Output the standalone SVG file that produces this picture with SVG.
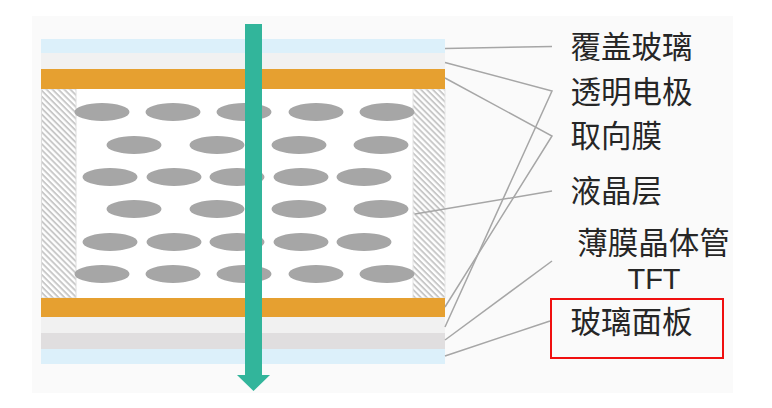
<svg xmlns="http://www.w3.org/2000/svg" width="772" height="408" viewBox="0 0 772 408">
<style>
.lc{fill:#a6a6a6}
.ln{fill:none;stroke:#a6a6a6;stroke-width:1.5}
.t{font-family:"Noto Sans CJK SC","Noto Sans",sans-serif;font-size:30.500px;fill:#262626}
</style>
<defs>
<pattern id="h" width="4.200" height="4.200" patternUnits="userSpaceOnUse" patternTransform="rotate(45)">
<rect width="4.200" height="4.200" fill="#fff"/><rect width="4.200" height="1.900" fill="#c8c8c8"/>
</pattern>
<ellipse id="e" rx="27.500" ry="9" class="lc"/>
</defs>
<rect width="772" height="408" fill="#fff"/>
<rect x="32" y="16" width="701" height="377" fill="#fafafa"/>
<g id="cell">
<rect x="41" y="39" width="404" height="14" fill="#dcf0fa"/>
<rect x="41" y="53" width="404" height="16" fill="#f1f1f1"/>
<rect x="41" y="89" width="404" height="209" fill="#fff"/>
<rect x="41.500" y="89" width="34.500" height="209" fill="url(#h)" stroke="#dcdcdc"/>
<rect x="413" y="89" width="32" height="209" fill="url(#h)" stroke="#e4e4e4"/>
<rect x="41" y="69" width="404" height="20" fill="#e6a030"/>
<rect x="41" y="298" width="404" height="19" fill="#e6a030"/>
<rect x="41" y="317" width="404" height="16" fill="#f1f1f1"/>
<rect x="41" y="333" width="404" height="16" fill="#e0dedf"/>
<rect x="41" y="349" width="404" height="15" fill="#dcf0fa"/>
</g>
<g id="crystals">
<use href="#e" x="102" y="112"/><use href="#e" x="173" y="112"/><use href="#e" x="244" y="112"/><use href="#e" x="316" y="112"/><use href="#e" x="387" y="112"/>
<use href="#e" x="134" y="145"/><use href="#e" x="217" y="145"/><use href="#e" x="299" y="145"/><use href="#e" x="381" y="145"/>
<use href="#e" x="110" y="177"/><use href="#e" x="174" y="177"/><use href="#e" x="237" y="177"/><use href="#e" x="301" y="177"/><use href="#e" x="364" y="177"/>
<use href="#e" x="134" y="209"/><use href="#e" x="217" y="209"/><use href="#e" x="299" y="209"/><use href="#e" x="381" y="209"/>
<use href="#e" x="110" y="242"/><use href="#e" x="174" y="242"/><use href="#e" x="237" y="242"/><use href="#e" x="301" y="242"/><use href="#e" x="364" y="242"/>
<use href="#e" x="102" y="274"/><use href="#e" x="173" y="274"/><use href="#e" x="244" y="274"/><use href="#e" x="316" y="274"/><use href="#e" x="387" y="274"/>
</g>
<g id="light-arrow">
<path d="M245 24H262V375H270L253.500 391L237 375H245Z" fill="#32b59b"/>
</g>
<g id="connectors">
<path class="ln" d="M445 48.500L552 46.500"/>
<path class="ln" d="M445 62.500L552 91L445 327"/>
<path class="ln" d="M445 78L552 136L445 307"/>
<path class="ln" d="M415 214L552 191"/>
<path class="ln" d="M445 340L552 261"/>
<path class="ln" d="M445 356L550 321"/>
</g>
<g id="label-cover"><text class="t" x="570.500" y="58">覆盖玻璃</text></g>
<g id="label-electrode"><text class="t" x="570.500" y="103">透明电极</text></g>
<g id="label-alignment"><text class="t" x="570.500" y="147">取向膜</text></g>
<g id="label-lc"><text class="t" x="570.500" y="202">液晶层</text></g>
<g id="label-tft"><text class="t" x="653.500" y="254" text-anchor="middle">薄膜晶体管</text><text x="654" y="289" text-anchor="middle" font-family="Liberation Sans, sans-serif" font-size="29" fill="#262626">TFT</text></g>
<g id="label-panel"><rect x="551" y="299" width="172" height="59" fill="none" stroke="#f01010" stroke-width="2"/><text class="t" x="570.500" y="333">玻璃面板</text></g>
</svg>
